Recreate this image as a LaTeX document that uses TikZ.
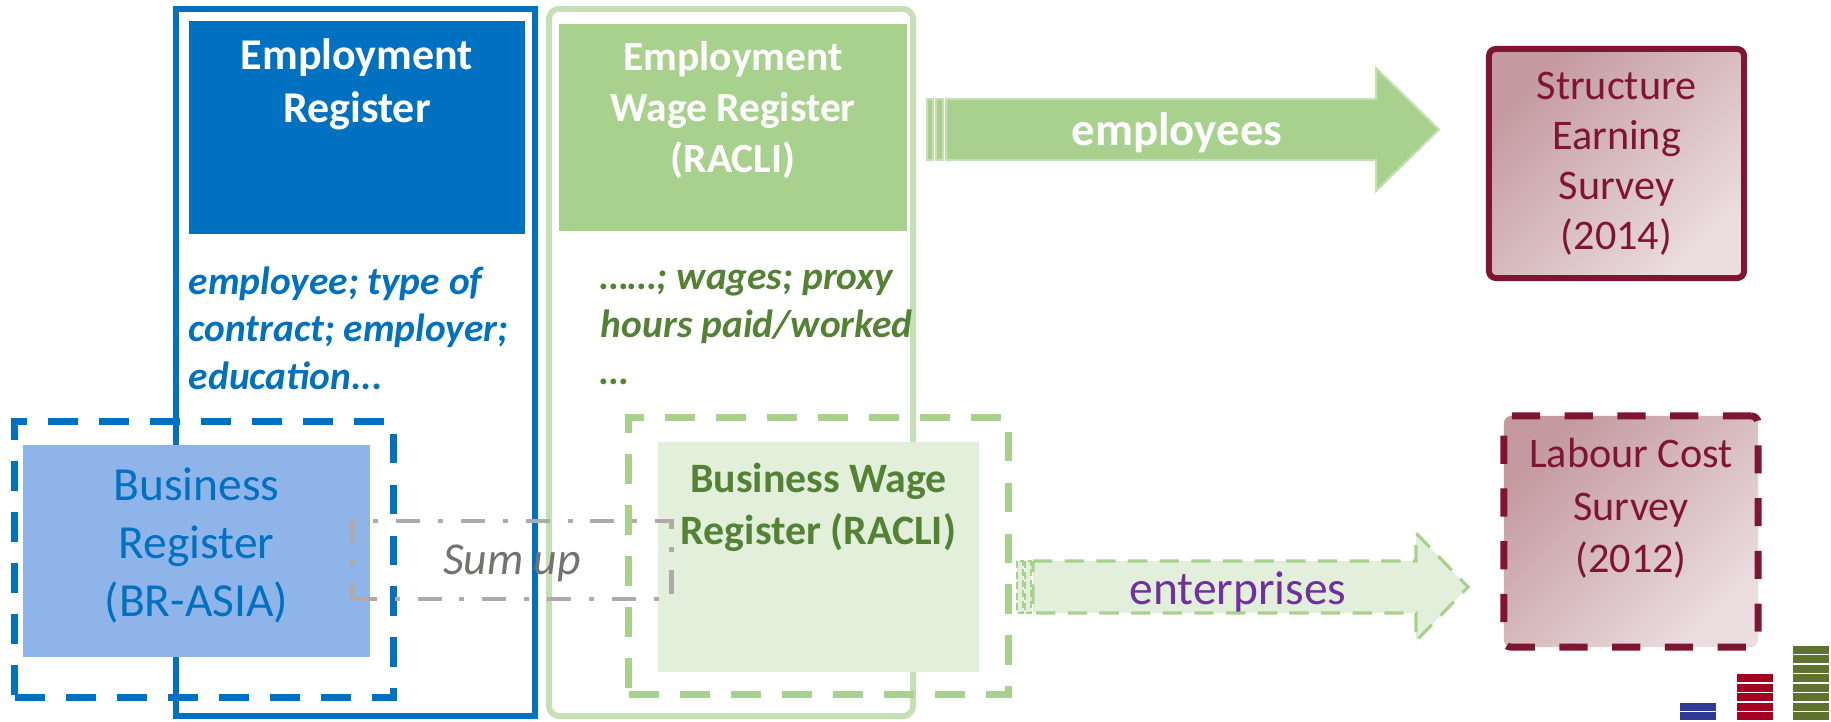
\documentclass[tikz,border=0pt]{standalone}
\usepackage{fontspec}
\setmainfont{Carlito}
\usepackage{tikz}
\usetikzlibrary{positioning}

\definecolor{erblue}{HTML}{0070C0}
\definecolor{brblue}{HTML}{8FB4EA}
\definecolor{ewrgreen}{HTML}{A9D18E}
\definecolor{ewrframe}{HTML}{C5E0B4}
\definecolor{bwrfill}{HTML}{E2EFDA}
\definecolor{notegreen}{HTML}{548235}
\definecolor{entpurple}{HTML}{7030A0}
\definecolor{survred}{HTML}{7F1530}
\definecolor{survdark}{HTML}{C49A9E}
\definecolor{survlight}{HTML}{EBDDE0}
\definecolor{sumgrey}{HTML}{AEAAAA}
\definecolor{sumtext}{HTML}{767171}
\definecolor{barblue}{HTML}{2E3A96}
\definecolor{barred}{HTML}{A50021}
\definecolor{barolive}{HTML}{5E732E}

\tikzset{
column_frame/.style={rectangle, draw, line width=1.7pt, inner sep=0},
head_box/.style={rectangle, inner sep=0},
head_text/.style={text=white, align=center, inner sep=0},
notes/.style={align=left, inner sep=0, font=\bfseries\itshape\fontsize{11.2}{13.5}\selectfont},
unit_frame/.style={rectangle, draw, line width=2pt, dash pattern=on 8.5pt off 6pt, inner sep=0},
unit_box/.style={rectangle, inner sep=0},
sum_frame/.style={rectangle, draw=sumgrey, line width=1.4pt, dash pattern=on 6.8pt off 5.1pt on 1.4pt off 5.1pt, inner sep=0},
survey/.style={rectangle, draw=survred, top color=survdark, bottom color=survlight, shading angle=45, rounded corners=2pt, inner sep=0, text=survred, align=center, font=\fontsize{12}{14.2}\selectfont},
staff_arrow/.style={fill=ewrgreen, draw=ewrframe, line width=0.6pt},
firm_arrow/.style={fill=bwrfill, draw=ewrgreen, line width=0.9pt, dash pattern=on 5.5pt off 3.5pt},
staff_stripe/.style={fill=ewrgreen, draw=ewrframe, line width=0.6pt},
firm_stripe/.style={fill=bwrfill, draw=ewrgreen, line width=0.6pt, dash pattern=on 2pt off 1pt}
}

\begin{document}
\begin{tikzpicture}[x=0.01cm, y=-0.01cm]
    \useasboundingbox (0,0) rectangle (1831,721);

    % register columns
    \node[column_frame, draw=erblue, minimum width=3.59cm, minimum height=7.07cm] (emp_col) at (355.5,362.5) {};
    \node[column_frame, draw=ewrframe, rounded corners=3pt, minimum width=3.64cm, minimum height=7.07cm] (ewr_col) at (731,362.5) {};
    \node[head_box, fill=erblue, minimum width=3.36cm, minimum height=2.13cm] (emp_reg) at (357,127.5) {};
    \node[head_box, fill=ewrgreen, minimum width=3.48cm, minimum height=2.07cm] (ewr) at (733,127.5) {};
    \node[head_text, font=\bfseries\fontsize{12.5}{15.1}\selectfont] (emp_reg_txt) [below=0.18cm of emp_reg.north] {Employment\\Register};
    \node[head_text, font=\bfseries\fontsize{11.8}{14.5}\selectfont] (ewr_txt) [below=0.17cm of ewr.north] {Employment\\Wage Register\\(RACLI)};
    \node[notes, text=erblue] (emp_notes) [below right=0.31cm and 0cm of emp_reg.south west] {employee; type of\\contract; employer;\\education...};
    \node[notes, text=notegreen] (ewr_notes) [below right=0.38cm and 0.42cm of ewr.south west] {……; wages; proxy\\hours paid/worked\\…};

    % business level
    \node[unit_frame, draw=erblue, minimum width=3.78cm, minimum height=2.75cm] (br_frame) at (204,559.5) {};
    \node[unit_frame, draw=ewrgreen, minimum width=3.79cm, minimum height=2.76cm] (bwr_frame) at (818.5,556) {};
    \node[unit_box, fill=brblue, minimum width=3.47cm, minimum height=2.12cm] (br) at (196.5,551) {};
    \node[unit_box, fill=bwrfill, minimum width=3.21cm, minimum height=2.30cm] (bwr) at (818.5,557) {};
    \node[head_text, text=erblue, font=\fontsize{13.5}{16.5}\selectfont] (br_txt) [below=0.23cm of br.north] {Business\\Register\\(BR-ASIA)};
    \node[head_text, text=notegreen, font=\bfseries\fontsize{11.9}{14.8}\selectfont] (bwr_txt) [below=0.21cm of bwr.north] {Business Wage\\Register (RACLI)};
    \node[sum_frame, minimum width=3.18cm, minimum height=0.78cm] (sum_box) at (512,560) {};
    \node[text=sumtext, inner sep=0, font=\itshape\fontsize{13}{15}\selectfont] (sum_txt) at ([yshift=-1pt]sum_box.center) {Sum up};

    % flows to the surveys
    \draw[staff_arrow] (946,99) -- (1376,99) -- (1376,68) -- (1439,129.5) -- (1376,191) -- (1376,160) -- (946,160) -- cycle;
    \draw[staff_stripe] (927,99) rectangle (933,160);
    \draw[staff_stripe] (936,99) rectangle (943,160);
    \node[text=white, anchor=base, inner sep=0, font=\bfseries\fontsize{13.3}{16}\selectfont] (emp_flow_txt) at (1177,145) {employees};

    \draw[firm_arrow] (1033,561) -- (1416,561) -- (1416,533) -- (1468,587) -- (1416,641) -- (1416,613) -- (1033,613) -- cycle;
    \draw[firm_stripe] (1017,561) rectangle (1023,613);
    \draw[firm_stripe] (1025,561) rectangle (1031,613);
    \node[text=entpurple, anchor=base, inner sep=0, font=\fontsize{13.5}{16}\selectfont] (ent_flow_txt) at (1238,604) {enterprises};

    % surveys
    \node[survey, line width=1.7pt, minimum width=2.55cm, minimum height=2.29cm] (ses) at (1616.5,163.5) {Structure\\Earning\\Survey\\(2014)};
    \node[survey, line width=2pt, dash pattern=on 8pt off 7pt, minimum width=2.54cm, minimum height=2.31cm] (lcs) at (1631,531.5) {};
    \node[head_text, text=survred, font=\fontsize{12}{15}\selectfont] (lcs_txt) [below=0.25cm of lcs.north] {Labour Cost\\Survey\\(2012)};

    % level marks
    \foreach \i in {0,1} \fill[barblue] (1680,{720-9.5*\i}) rectangle (1716,{712-9.5*\i});
    \foreach \i in {0,...,4} \fill[barred] (1737,{720-9.5*\i}) rectangle (1773,{712-9.5*\i});
    \foreach \i in {0,...,7} \fill[barolive] (1793,{720-9.5*\i}) rectangle (1829,{712-9.5*\i});
\end{tikzpicture}
\end{document}
